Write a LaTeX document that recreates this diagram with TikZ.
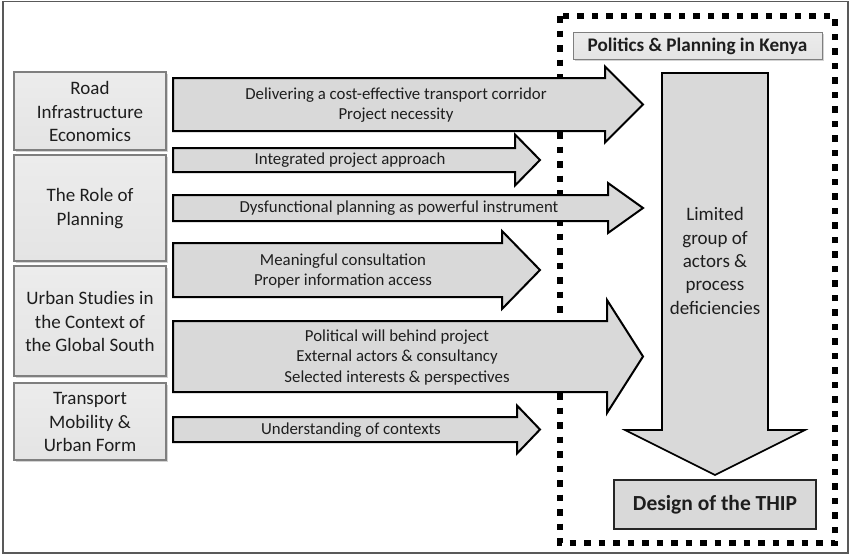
\documentclass[tikz,border=0pt]{standalone}
\usepackage{fontspec}
\setmainfont{Carlito}
\usetikzlibrary{shadows}
\definecolor{txt}{HTML}{1E1E1E}
\definecolor{boxfill}{HTML}{E4E4E4}
\definecolor{boxline}{HTML}{7F7F7F}
\definecolor{arrfill}{HTML}{D9D9D9}
\tikzset{
  topicbox/.style={draw=boxline, line width=1.2pt, top color=boxfill!70!white, bottom color=boxfill,
    drop shadow={shadow xshift=1.5pt, shadow yshift=-1.5pt, opacity=0.35}},
  arrowshape/.style={draw=black, line width=2pt, fill=arrfill, line join=miter},
  arrowlabel/.style={text=txt, font=\fontsize{16.8}{20.2}\selectfont, align=center, inner sep=0pt},
  topiclabel/.style={text=txt, font=\fontsize{19}{23.4}\selectfont, align=center, inner sep=0pt},
  dotframe/.style={draw=black, line width=5.5pt, dash pattern=on 6.5pt off 8pt},
}
% horizontal block arrow: body left x, head start x, tip x, body top y, body bottom y, head half height
\newcommand\harrow[6]{%
  \draw[arrowshape] (#1,#4) -- (#2,#4) -- (#2,{(#4+#5)/2-#6}) -- (#3,{(#4+#5)/2})
    -- (#2,{(#4+#5)/2+#6}) -- (#2,#5) -- (#1,#5) -- cycle;}
\begin{document}
\begin{tikzpicture}[x=1pt,y=-1pt]
\useasboundingbox (0,0) rectangle (850,555);
% outer frame
\draw[draw=black!65, line width=1.3pt] (3,1.5) rectangle (848,553);

% dotted frame round the Kenyan context
\draw[dotframe] (560,16) rectangle (835,543);

% topic boxes on the left
\path[topicbox] (14,72) rectangle (166,150);
\node[topiclabel] (road) at (90,111.5) {Road\\Infrastructure\\Economics};
\path[topicbox] (14,155) rectangle (166,261);
\node[topiclabel] (plan) at (90,208.5) {The Role of\\Planning};
\path[topicbox] (14,266) rectangle (166,376);
\node[topiclabel] (urban) at (90,321.5) {Urban Studies in\\the Context of\\the Global South};
\path[topicbox] (14,383) rectangle (166,460);
\node[topiclabel] (mob) at (90,422) {Transport\\Mobility \&\\Urban Form};

% block arrows with their findings
\harrow{173}{605}{643}{78}{131}{38}
\node[arrowlabel] (a1) at (396,105.5) {Delivering a cost-effective transport corridor\\Project necessity};
\harrow{173}{515}{540}{148}{172}{25.5}
\node[arrowlabel] (a2) at (350,160.5) {Integrated project approach};
\harrow{173}{608}{643}{195}{221}{25}
\node[arrowlabel] (a3) at (399,208.5) {Dysfunctional planning as powerful instrument};
\harrow{173}{502}{540}{243}{297}{39}
\node[arrowlabel] (a4) at (343,271) {Meaningful consultation\\Proper information access};
\harrow{173}{607}{643}{321}{392}{56.5}
\node[arrowlabel] (a5) at (397,357.5) {Political will behind project\\External actors \& consultancy\\Selected interests \& perspectives};
\harrow{173}{517}{540}{417}{442}{24}
\node[arrowlabel] (a6) at (351,430) {Understanding of contexts};

% header of the Kenyan context
\path[topicbox, line width=1pt] (573,32) rectangle (822,59);
\node[text=txt, font=\fontsize{19.2}{23}\bfseries\selectfont, inner sep=0pt] (kenya) at (697.5,46) {Politics \& Planning in Kenya};

% large downward arrow
\draw[arrowshape, line width=1.6pt] (662,73) -- (768,73) -- (768,430) -- (805,430) -- (715,475)
  -- (625,430) -- (662,430) -- cycle;
\node[topiclabel] (limited) at (715,261) {Limited\\group of\\actors \&\\process\\deficiencies};

% outcome
\node[draw=black!85, line width=1.3pt, fill=arrfill, minimum width=202pt, minimum height=49pt,
  text=txt, font=\fontsize{21.5}{26}\bfseries\selectfont] (thip) at (715,504.5) {Design of the THIP};
\end{tikzpicture}
\end{document}
